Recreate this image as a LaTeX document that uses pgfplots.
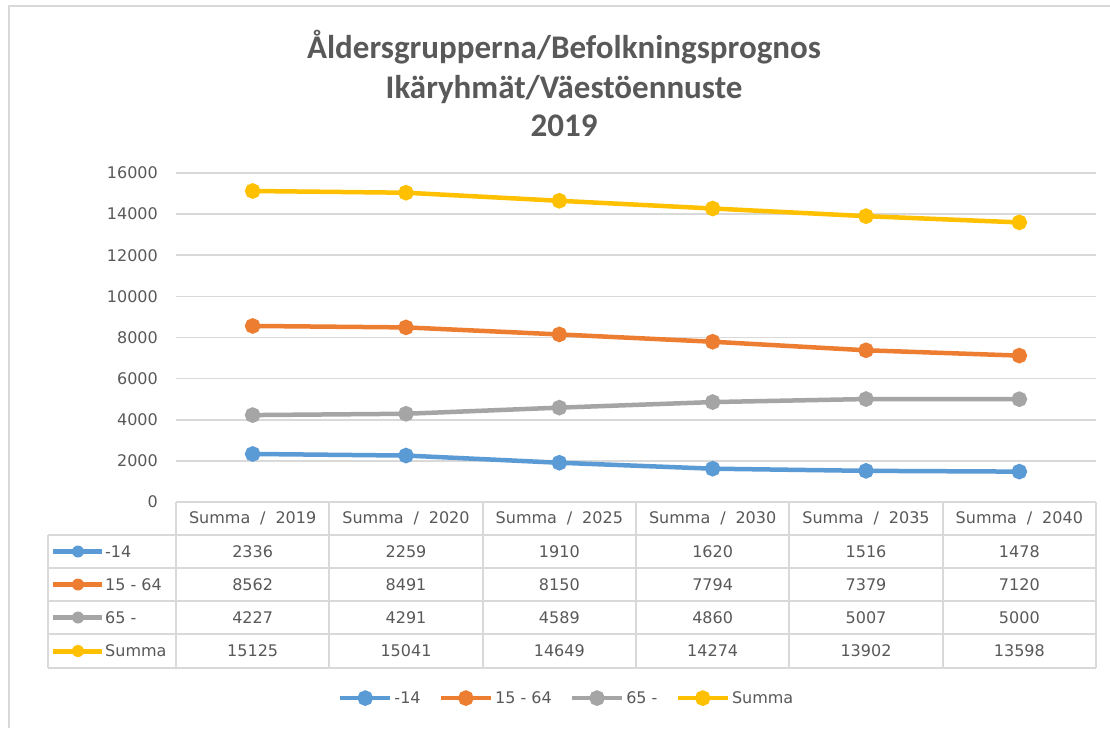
\documentclass[border=0pt]{standalone}
\usepackage{pgfplots}
\pgfplotsset{compat=1.18}
\usepackage{fontspec}
\setmainfont{DejaVu Sans}
\newfontfamily\titlefont{Carlito}
\definecolor{cblue}{HTML}{5B9BD5}
\definecolor{corange}{HTML}{ED7D31}
\definecolor{cgray}{HTML}{A5A5A5}
\definecolor{cyellow}{HTML}{FFC000}
\definecolor{txt}{HTML}{595959}
\definecolor{gridc}{HTML}{D9D9D9}
\newcommand\tf{\fontsize{16}{19}\selectfont}
\begin{document}
\begin{tikzpicture}[x=1pt,y=1pt]
\fill[white] (0,0) rectangle (1110,-728);
\useasboundingbox (0,0) rectangle (1110,-728);
\draw[gridc, line width=1.8pt] (9,-728) -- (9,-6) -- (1110,-6);
\node[font=\titlefont\bfseries\fontsize{33}{38}\selectfont, text=txt, anchor=base] at (564,-58.5) {Åldersgrupperna/Befolkningsprognos};
\node[font=\titlefont\bfseries\fontsize{33}{38}\selectfont, text=txt, anchor=base] at (564,-98.5) {Ikäryhmät/Väestöennuste};
\node[font=\titlefont\bfseries\fontsize{33}{38}\selectfont, text=txt, anchor=base] at (564,-136.5) {2019};
\begin{axis}[
  at={(176pt,-502pt)}, anchor=south west,
  scale only axis, width=920pt, height=329pt,
  xmin=-0.5, xmax=5.5, ymin=0, ymax=16000,
  clip=false,
  axis line style={draw=none},
  xtick=\empty, ytick={0,2000,...,16000},
  ymajorgrids, grid style={gridc, line width=1.6pt},
  major tick length=0pt,
  scaled y ticks=false,
  yticklabel style={font=\tf, text=txt, anchor=east, inner sep=0pt, xshift=-18pt, /pgf/number format/.cd, fixed, 1000 sep={}, assume math mode=true},
  every axis plot/.append style={line width=4.5pt, mark=*, mark size=5.5pt},
  legend image code/.code={\draw[mark repeat=2,mark phase=2,#1] plot coordinates {(0pt,0pt) (25pt,0pt) (50pt,0pt)};},
  legend style={at={(0.4246,-0.596)}, anchor=center, draw=none, fill=none, font=\tf, text=txt, nodes={inner sep=2pt}, /tikz/every even column/.append style={column sep=16pt}},
  legend columns=4, legend cell align=left,
]
\addplot[cblue, mark options={fill=cblue}] coordinates {(0,2336) (1,2259) (2,1910) (3,1620) (4,1516) (5,1478)};
\addlegendentry{-14}
\addplot[corange, mark options={fill=corange}] coordinates {(0,8562) (1,8491) (2,8150) (3,7794) (4,7379) (5,7120)};
\addlegendentry{15 - 64}
\addplot[cgray, mark options={fill=cgray}] coordinates {(0,4227) (1,4291) (2,4589) (3,4860) (4,5007) (5,5000)};
\addlegendentry{65 -}
\addplot[cyellow, mark options={fill=cyellow}] coordinates {(0,15125) (1,15041) (2,14649) (3,14274) (4,13902) (5,13598)};
\addlegendentry{Summa}
\end{axis}
% data table
\begin{scope}[gridc, line width=1.8pt]
\draw (176,-502) -- (1096,-502);
\foreach \yy in {535,568,601,634,668} \draw (48,-\yy) -- (1096,-\yy);
\draw (48,-535) -- (48,-668);
\foreach \i in {0,...,6} \draw ({176+153.333*\i},-502) -- ({176+153.333*\i},-668);
\end{scope}
\foreach \yr [count=\i from 0] in {2019,2020,2025,2030,2035,2040}
  \node[font=\tf, text=txt, inner sep=0pt] at ({252.67+153.333*\i},-518.5) {Summa\hspace{0.62em}/\hspace{0.62em}\yr};
\foreach \v [count=\i from 0] in {2336,2259,1910,1620,1516,1478}
  \node[font=\tf, text=txt, inner sep=0pt] at ({252.67+153.333*\i},-551.5) {\v};
\foreach \v [count=\i from 0] in {8562,8491,8150,7794,7379,7120}
  \node[font=\tf, text=txt, inner sep=0pt] at ({252.67+153.333*\i},-584.5) {\v};
\foreach \v [count=\i from 0] in {4227,4291,4589,4860,5007,5000}
  \node[font=\tf, text=txt, inner sep=0pt] at ({252.67+153.333*\i},-617.5) {\v};
\foreach \v [count=\i from 0] in {15125,15041,14649,14274,13902,13598}
  \node[font=\tf, text=txt, inner sep=0pt] at ({252.67+153.333*\i},-651) {\v};
\foreach \kc/\kl/\ky in {cblue/-14/551.5, corange/15 - 64/584.5, cgray/65 -/617.5, cyellow/Summa/651} {
  \draw[draw=\kc, line width=5pt] (53pt,-\ky pt) -- (102pt,-\ky pt);
  \fill[fill=\kc] (78pt,-\ky pt) circle[radius=6pt];
  \node[font=\tf, text=txt, inner sep=0pt, anchor=west] at (105pt,-\ky pt) {\kl};
}
\end{tikzpicture}
\end{document}
